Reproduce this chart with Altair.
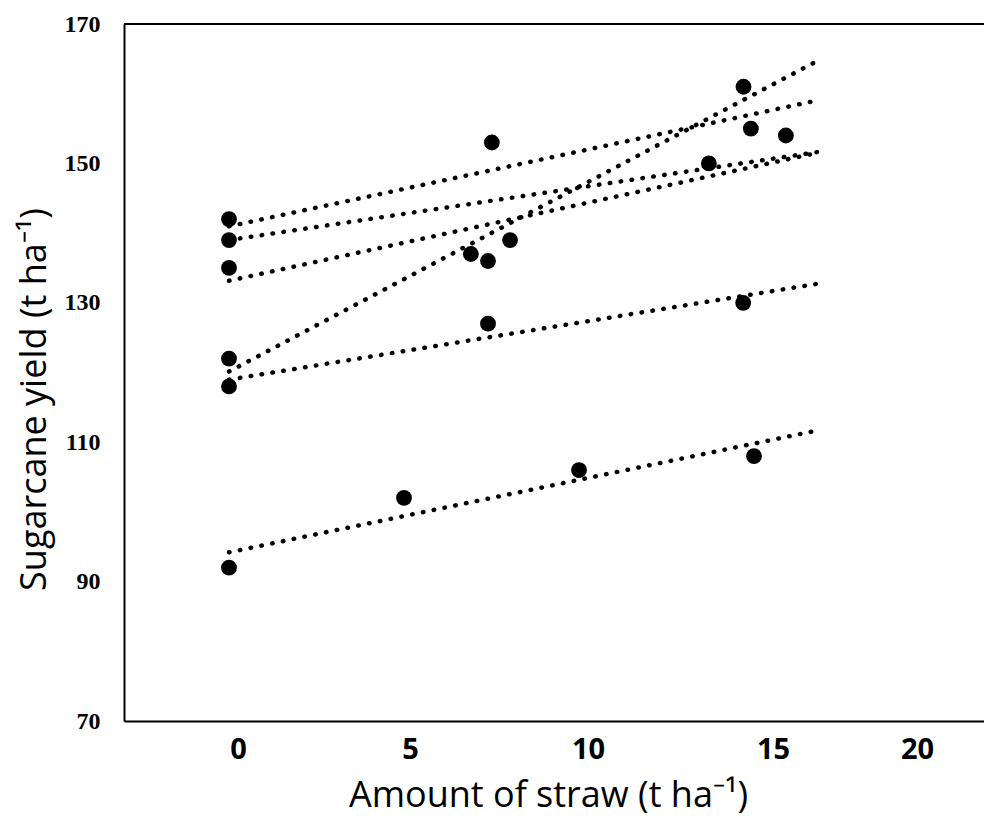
import altair as alt
import pandas as pd

s1_x = [0, 5, 10, 15]
s1_y = [92, 102, 106, 108]
s2_x = [0, 7.4, 14.69]
s2_y = [118, 127, 130]
s3_x = [0, 7.4, 14.7]
s3_y = [122, 136, 161]
s4_x = [0, 7.51, 14.91]
s4_y = [139, 153, 155]
s5_x = [0, 8.03, 15.91]
s5_y = [142, 139, 154]
s6_x = [0, 6.91, 13.71]
s6_y = [135, 137, 150]

series_names = ["S1", "S2", "S3", "S4", "S5", "S6"]
xs = [s1_x, s2_x, s3_x, s4_x, s5_x, s6_x]
ys = [s1_y, s2_y, s3_y, s4_y, s5_y, s6_y]

x_ticks = [0, 5, 10, 15, 20]
y_ticks = [70, 90, 110, 130, 150, 170]

rows = []
for name, xv, yv in zip(series_names, xs, ys):
    for a, b in zip(xv, yv):
        rows.append({"series": name, "amount": a, "yld": b})
df = pd.DataFrame(rows)

x_scale = alt.Scale(domain=[-3, 21.571], nice=False, zero=False)
y_scale = alt.Scale(domain=[70, 170], nice=False, zero=False)

x_axis = alt.Axis(
    values=x_ticks, format="d", ticks=False, grid=False,
    domainColor="black", domainWidth=2,
    labelFont="Open Sans", labelFontWeight="bold", labelFontSize=29,
    labelColor="black", labelPadding=14, labelBaseline="top",
    labelFlush=False, labelOverlap=False,
    labelOffset={"condition": [
        {"test": "datum.value == 15", "value": 19},
        {"test": "datum.value == 20", "value": -12},
        {"test": "datum.value == 5", "value": 6},
    ], "value": 9},
    title="Amount of straw (t ha⁻¹)", titleFont="Open Sans", titleFontSize=36,
    titleFontWeight="normal", titleColor="black",
    titleX=424, titleY=85, titleAlign="center", titleBaseline="alphabetic",
)

y_axis = alt.Axis(
    values=y_ticks, ticks=False, grid=False,
    domainColor="black", domainWidth=2,
    labelFont="Liberation Serif", labelFontWeight="bold", labelFontSize=24,
    labelColor="black", labelPadding=24, labelBaseline="middle",
    labelFlush=False, labelOverlap=False,
    title="Sugarcane yield (t ha⁻¹)", titleFont="Open Sans", titleFontSize=36,
    titleFontWeight="normal", titleColor="black", titleAngle=-90,
    titleX=-79, titleY=375, titleAlign="center", titleBaseline="alphabetic",
)

base = alt.Chart(df)

points = base.mark_circle(size=250, color="black", opacity=1).encode(
    x=alt.X("amount:Q", scale=x_scale, axis=x_axis),
    y=alt.Y("yld:Q", scale=y_scale, axis=y_axis),
)

trends = base.transform_regression(
    "amount", "yld", groupby=["series"], extent=[0, 16.8]
).mark_line(
    color="black", strokeWidth=4.5, strokeDash=[0.5, 10.5], strokeCap="round"
).encode(
    x=alt.X("amount:Q", scale=x_scale),
    y=alt.Y("yld:Q", scale=y_scale),
    detail="series:N",
)

top_border = alt.Chart(pd.DataFrame({"v": [170]})).mark_rule(
    color="black", strokeWidth=2
).encode(y=alt.Y("v:Q", scale=y_scale))

chart = alt.layer(trends, points, top_border).properties(
    width=860, height=697,
    autosize=alt.AutoSizeParams(type="none"),
    padding={"left": 116, "top": 16, "right": 0, "bottom": 100},
).configure_view(stroke=None).configure(background="white")

chart.save("out.html", embed_options={"renderer": "svg", "actions": False})
